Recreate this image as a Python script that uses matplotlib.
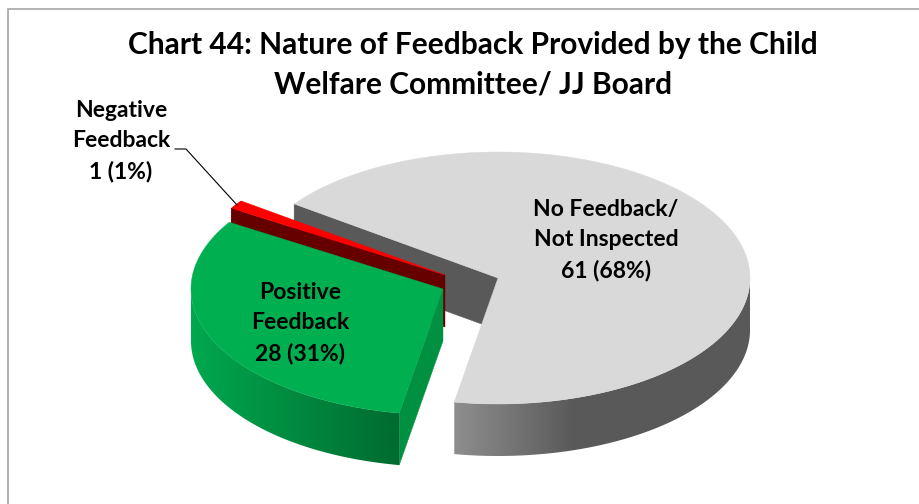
import numpy as np
import matplotlib
matplotlib.use('Agg')
import matplotlib.pyplot as plt
from matplotlib.patches import Polygon, Rectangle

plt.rcParams['font.family'] = ['Lato', 'DejaVu Sans']

# data, in chart order (clockwise)
categories = ['No Feedback/\nNot Inspected', 'Positive\nFeedback', 'Negative\nFeedback']
values = [61, 28, 1]
percents = ['68%', '31%', '1%']

title = 'Chart 44: Nature of Feedback Provided by the Child\nWelfare Committee/ JJ Board'

# pie geometry in pixels
A, B = 252, 126
DEPTH = 52
START = -54
centers = [(498, 278), (443, 289), (445, 275)]
label_pos = [(606, 240), (300, 323), (121, 141)]


def rim(c, th):
    th = np.radians(th)
    return np.column_stack([c[0] + A * np.sin(th), c[1] - B * np.cos(th)])


def side(ax, c, t0, t1, colour_at, z):
    # outer wall: horizontal gradient clipped to the wall outline
    p = rim(c, np.linspace(t0, t1, 200))
    outline = np.vstack([p, p[::-1] + [0, DEPTH]])
    x0, x1 = outline[:, 0].min() - 1, outline[:, 0].max() + 1
    y0, y1 = outline[:, 1].min() - 1, outline[:, 1].max() + 1
    xs = np.linspace(x0, x1, 400)
    img = np.array([[colour_at(x) for x in xs]])
    im = ax.imshow(img, extent=(x0, x1, y1, y0), aspect='auto', zorder=z, interpolation='bilinear')
    clip = Polygon(outline, closed=True, transform=ax.transData)
    im.set_clip_path(clip)


def wall(ax, c, th, col, z):
    p = rim(c, th)[0]
    q = [p, c, (c[0], c[1] + DEPTH), (p[0], p[1] + DEPTH)]
    ax.add_patch(Polygon(q, closed=True, fc=col, ec=col, lw=0.3, zorder=z))


def top(ax, c, t0, t1, col, z):
    p = rim(c, np.linspace(t0, t1, 300))
    ax.add_patch(Polygon(np.vstack([[c], p]), closed=True, fc=col, ec=col, lw=0.3, zorder=z))


def mix(c1, c2, f):
    f = min(max(f, 0), 1)
    return tuple((np.array(c1) + (np.array(c2) - np.array(c1)) * f) / 255)


def gray_side(x):
    return mix((142, 142, 142), (89, 89, 89), (x - 455) / 120)


def green_side(x):
    return mix((0, 168, 78), (0, 107, 48), (x - 191) / 209)


def red_side(x):
    return (0.4, 0, 0)


fig = plt.figure(figsize=(9.2, 5.04), dpi=100)
ax = fig.add_axes([0, 0, 1, 1])
ax.axis('off')

ax.add_patch(Rectangle((8, 8.5), 1000, 1000, fc='white', ec='#a6a6a6', lw=1.2, zorder=0))

angles = np.array(values) / sum(values) * 360
stops = START + np.concatenate([[0], np.cumsum(angles)])

# gray slice
wall(ax, centers[0], stops[0], '#595959', 1)
side(ax, centers[0], 90, stops[1], gray_side, 2)
top(ax, centers[0], stops[0], stops[1], '#d9d9d9', 3)

# red slice
wall(ax, centers[2], stops[2], '#660000', 4)
side(ax, centers[2], stops[2], stops[3], red_side, 4)
top(ax, centers[2], stops[2], stops[3], '#ff0000', 5)

# green slice
wall(ax, centers[1], stops[1], '#009042', 6)
side(ax, centers[1], stops[1], 270, green_side, 6)
top(ax, centers[1], stops[1], stops[2], '#00b050', 7)

ax.plot([175, 186, 237], [149, 149, 205], color='black', lw=0.8, zorder=8)

ax.text(473, 65, title, ha='center', va='center', fontsize=21.5, fontweight='bold',
        linespacing=1.5, color='black', zorder=9)
for cat, v, pct, pos in zip(categories, values, percents, label_pos):
    ax.text(pos[0], pos[1], f'{cat}\n{v} ({pct})', ha='center', va='center', fontsize=16.5,
            fontweight='bold', linespacing=1.52, color='black', zorder=9)

ax.set_xlim(0, 920)
ax.set_ylim(504, 0)

fig.savefig('out.png', dpi=100)
